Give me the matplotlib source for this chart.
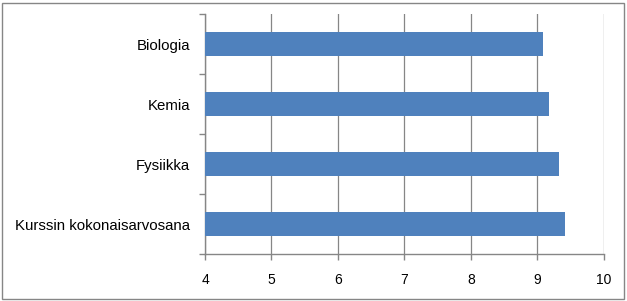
import matplotlib.pyplot as plt
from matplotlib.patches import Rectangle

# Aineet ja arvosanat (ylhäältä alas)
aineet = ['Biologia', 'Kemia', 'Fysiikka', 'Kurssin kokonaisarvosana']
arvosanat = [9.08, 9.17, 9.33, 9.42]
x_ticks = [4, 5, 6, 7, 8, 9, 10]

plt.rcParams['font.family'] = ['Liberation Sans', 'DejaVu Sans']

fig = plt.figure(figsize=(6.27, 3.01), dpi=100)
ax = fig.add_axes([0.327, 0.156, 0.636, 0.797])

pos = list(range(len(aineet)))
ax.barh(pos, arvosanat, height=0.39, color='#4F81BD', left=0, zorder=3)

ax.set_xlim(4, 10)
ax.set_ylim(3.5, -0.5)
ax.set_xticks(x_ticks)
ax.set_xticklabels([str(t) for t in x_ticks])
ax.set_yticks(pos)
ax.set_yticklabels(aineet)
ax.set_yticks([-0.5, 0.5, 1.5, 2.5, 3.5], minor=True)

ax.tick_params(axis='y', which='major', length=0, pad=11, labelsize=10.8)
ax.tick_params(axis='y', which='minor', length=4, color='#868686', width=1)
ax.tick_params(axis='x', length=4, color='#868686', width=1, pad=10, labelsize=10)

ax.grid(axis='x', color='#868686', linewidth=0.9, zorder=0)
for s in ['top', 'right']:
    ax.spines[s].set_visible(False)
for s in ['left', 'bottom']:
    ax.spines[s].set_color('#868686')
    ax.spines[s].set_linewidth(1)

# Kuvan reunus
fig.patches.append(Rectangle((0.003, 0.006), 0.992, 0.985, transform=fig.transFigure,
                             fill=False, edgecolor='#868686', linewidth=1))

fig.savefig('out.png', dpi=100)
